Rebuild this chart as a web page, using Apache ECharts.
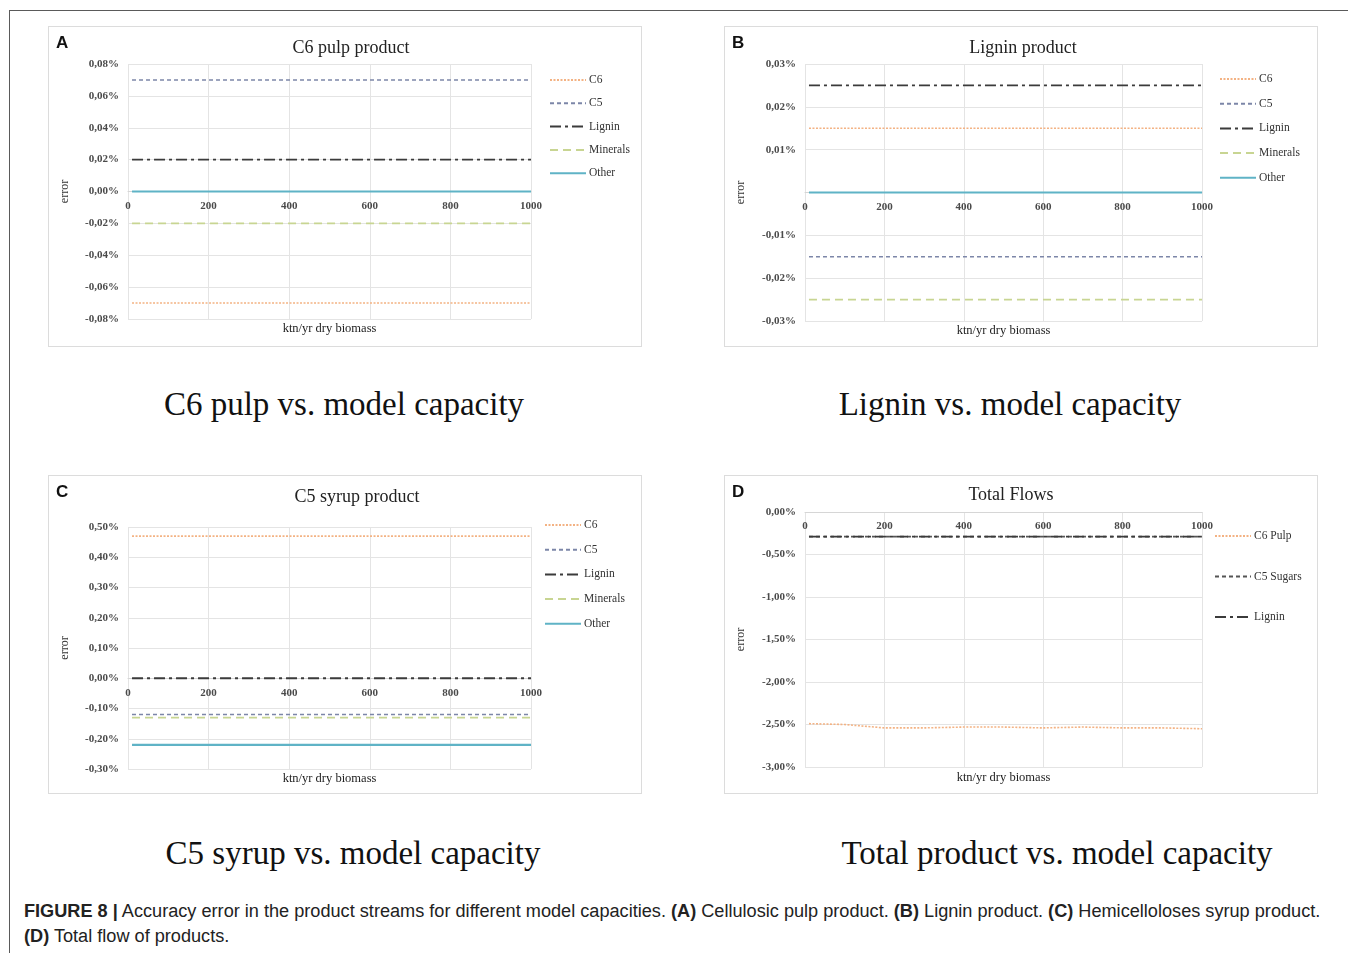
<!DOCTYPE html>
<html>
<head>
<meta charset="utf-8">
<script src="https://cdn.jsdelivr.net/npm/echarts@6/dist/echarts.min.js"></script>
<style>
  html, body { margin:0; padding:0; background:#fff; }
  body { width:1348px; height:953px; position:relative; overflow:hidden; }
  .frame { position:absolute; left:9px; top:10px; right:0; bottom:0; border-left:1.5px solid #5a5a5a; border-top:1.5px solid #5a5a5a; }
  .panel { position:absolute; border:1px solid #dcdcdc; box-sizing:border-box; background:#fff; }
  .sub { position:absolute; font-family:"Liberation Serif","DejaVu Serif",serif; font-size:33px; color:#111; white-space:nowrap; line-height:1; transform:translate(-50%,-50%); }
  .cap { position:absolute; left:24px; font-family:"Liberation Sans",Arial,sans-serif; font-size:18.15px; color:#222; white-space:nowrap; line-height:1; }
  .cap b { font-weight:bold; }
</style>
</head>
<body>
<div class="frame"></div>
<div id="pA" class="panel" style="left:48px;top:26px;width:594px;height:321px;"></div>
<div id="pB" class="panel" style="left:724px;top:26px;width:594px;height:321px;"></div>
<div id="pC" class="panel" style="left:48px;top:475px;width:594px;height:319px;"></div>
<div id="pD" class="panel" style="left:724px;top:475px;width:594px;height:319px;"></div>

<div class="sub" style="left:344px;top:404px;">C6 pulp vs. model capacity</div>
<div class="sub" style="left:1010px;top:404px;">Lignin vs. model capacity</div>
<div class="sub" style="left:353px;top:853px;">C5 syrup vs. model capacity</div>
<div class="sub" style="left:1057px;top:853px;">Total product vs. model capacity</div>

<div class="cap" style="top:902px;"><b>FIGURE 8 |</b> Accuracy error in the product streams for different model capacities. <b>(A)</b> Cellulosic pulp product. <b>(B)</b> Lignin product. <b>(C)</b> Hemicelloloses syrup product.</div>
<div class="cap" style="top:927px;"><b>(D)</b> Total flow of products.</div>

<script>
// ---- data (error in %, x in ktn/yr dry biomass) ----
const capacity = [10, 100, 200, 300, 400, 500, 600, 700, 800, 900, 1000];
const xTicks = [0, 200, 400, 600, 800, 1000];

// Panel A: C6 pulp product
const A_C6       = [-0.07, -0.07, -0.07, -0.07, -0.07, -0.07, -0.07, -0.07, -0.07, -0.07, -0.07];
const A_C5       = [0.07, 0.07, 0.07, 0.07, 0.07, 0.07, 0.07, 0.07, 0.07, 0.07, 0.07];
const A_Lignin   = [0.02, 0.02, 0.02, 0.02, 0.02, 0.02, 0.02, 0.02, 0.02, 0.02, 0.02];
const A_Minerals = [-0.02, -0.02, -0.02, -0.02, -0.02, -0.02, -0.02, -0.02, -0.02, -0.02, -0.02];
const A_Other    = [0, 0, 0, 0, 0, 0, 0, 0, 0, 0, 0];

// Panel B: Lignin product
const B_C6       = [0.015, 0.015, 0.015, 0.015, 0.015, 0.015, 0.015, 0.015, 0.015, 0.015, 0.015];
const B_C5       = [-0.015, -0.015, -0.015, -0.015, -0.015, -0.015, -0.015, -0.015, -0.015, -0.015, -0.015];
const B_Lignin   = [0.025, 0.025, 0.025, 0.025, 0.025, 0.025, 0.025, 0.025, 0.025, 0.025, 0.025];
const B_Minerals = [-0.025, -0.025, -0.025, -0.025, -0.025, -0.025, -0.025, -0.025, -0.025, -0.025, -0.025];
const B_Other    = [0, 0, 0, 0, 0, 0, 0, 0, 0, 0, 0];

// Panel C: C5 syrup product
const C_C6       = [0.47, 0.47, 0.47, 0.47, 0.47, 0.47, 0.47, 0.47, 0.47, 0.47, 0.47];
const C_C5       = [-0.12, -0.12, -0.12, -0.12, -0.12, -0.12, -0.12, -0.12, -0.12, -0.12, -0.12];
const C_Lignin   = [0, 0, 0, 0, 0, 0, 0, 0, 0, 0, 0];
const C_Minerals = [-0.13, -0.13, -0.13, -0.13, -0.13, -0.13, -0.13, -0.13, -0.13, -0.13, -0.13];
const C_Other    = [-0.22, -0.22, -0.22, -0.22, -0.22, -0.22, -0.22, -0.22, -0.22, -0.22, -0.22];

// Panel D: Total flows
const D_C6Pulp   = [-2.49, -2.50, -2.54, -2.54, -2.53, -2.53, -2.54, -2.53, -2.54, -2.54, -2.55];
const D_C5Sugars = [-0.29, -0.29, -0.29, -0.29, -0.29, -0.29, -0.29, -0.29, -0.29, -0.29, -0.29];
const D_Lignin   = [-0.29, -0.29, -0.29, -0.29, -0.29, -0.29, -0.29, -0.29, -0.29, -0.29, -0.29];

const namesABC = ['C6', 'C5', 'Lignin', 'Minerals', 'Other'];
const namesD = ['C6 Pulp', 'C5 Sugars', 'Lignin'];

// ---- styles ----
const STY = {
  C6:       { color:'#f3b283', width:1.6, type:[2,1.5] },
  C5:       { color:'#7c86a8', width:1.6, type:[4,3] },
  Lignin:   { color:'#3b3b3b', width:1.8, type:[11,4,3,4] },
  Minerals: { color:'#c8d592', width:1.8, type:[8,5] },
  Other:    { color:'#5fb3c6', width:2.2, type:'solid' }
};
const STYD = { 'C6 Pulp': STY.C6, 'C5 Sugars': Object.assign({}, STY.C5, {color:'#555'}), 'Lignin': STY.Lignin };

const serif = '"Liberation Serif","DejaVu Serif",serif';

function pct(v) {
  return v.toFixed(2).replace('.', ',') + '%';
}

function build(el, cfg) {
  const chart = echarts.init(el, null, { renderer:'canvas' });
  const series = cfg.names.map((n, i) => ({
    name: n,
    type: 'line',
    symbol: 'none',
    z: cfg.z ? cfg.z[i] : 2,
    lineStyle: Object.assign({}, cfg.styles[n]),
    itemStyle: { color: cfg.styles[n].color },
    data: capacity.map((x, k) => [x, cfg.data[i][k]])
  }));
  const g = cfg.grid;
  chart.setOption({
    animation: false,
    grid: { left: g.left, top: g.top, width: g.width, height: g.height, containLabel: false },
    xAxis: {
      type: 'value', min: 0, max: 1000, interval: 200, position: 'bottom', offset: 0,
      axisLine: { show: true, onZero: false, lineStyle: { color: '#d6d6d6', width: 1 } },
      axisTick: { show: false },
      axisLabel: {
        margin: 9, fontFamily: serif, fontSize: 11, fontWeight: 'bold', color: '#4a4a4a',
        formatter: v => (xTicks.indexOf(v) >= 0 ? String(v) : '')
      },
      splitLine: { show: true, lineStyle: { color: '#e4e4e4', width: 1 } }
    },
    yAxis: {
      type: 'value', min: cfg.yMin, max: cfg.yMax, interval: cfg.yInt,
      name: 'error', nameLocation: 'middle', nameGap: cfg.nameGap, nameRotate: 90,
      nameTextStyle: { fontFamily: serif, fontSize: 12, color: '#333' },
      axisLine: { show: false, onZero: false }, axisTick: { show: false },
      axisLabel: {
        margin: 9, fontFamily: serif, fontSize: 11, fontWeight: 'bold', color: '#4a4a4a',
        formatter: v => (cfg.hideZero && Math.abs(v) < 1e-9) ? '' : pct(v)
      },
      splitLine: { show: true, lineStyle: { color: '#e4e4e4', width: 1 } }
    },
    legend: {
      orient: 'vertical', left: cfg.legend.left, top: cfg.legend.top,
      itemWidth: cfg.legend.itemWidth, itemHeight: 10, itemGap: cfg.legend.gap, padding: 0,
      itemStyle: { color: 'rgba(0,0,0,0)', borderWidth: 0, opacity: 0 },
      textStyle: { fontFamily: serif, fontSize: 11.5, color: '#333', lineHeight: 14, padding: [0,0,0,-2] },
      data: cfg.names
    },
    graphic: [
      { type: 'text', left: 7, top: 8,
        style: { text: cfg.letter, font: 'bold 17px "Liberation Sans", Arial, sans-serif', fill: '#111' } },
      { type: 'text', x: cfg.titleX, y: cfg.titleY,
        style: { text: cfg.title, font: '18px ' + serif, fill: '#222', textAlign: 'center', textVerticalAlign: 'middle' } },
      { type: 'text', x: g.left + g.width / 2, y: g.top + g.height + cfg.xNameGap,
        style: { text: 'ktn/yr dry biomass', font: '12.5px ' + serif, fill: '#222', textAlign: 'center', textVerticalAlign: 'middle' } }
    ],
    series: series
  });
  // place the x axis line (and its labels) on y = 0, using the library's own y scale
  const zeroPx = chart.convertToPixel({ yAxisIndex: 0 }, 0);
  const bottomPx = chart.convertToPixel({ yAxisIndex: 0 }, cfg.yMin);
  chart.setOption({ xAxis: { offset: zeroPx - bottomPx } });
  return chart;
}

build(document.getElementById('pA'), {
  letter: 'A', title: 'C6 pulp product', titleX: 302, titleY: 21,
  grid: { left: 79, top: 37, width: 403, height: 255 },
  yMin: -0.08, yMax: 0.08, yInt: 0.02, nameGap: 57, xNameGap: 10,
  names: namesABC, styles: STY,
  data: [A_C6, A_C5, A_Lignin, A_Minerals, A_Other],
  legend: { left: 500, top: 46, gap: 9.3, itemWidth: 36 }
});
build(document.getElementById('pB'), {
  letter: 'B', title: 'Lignin product', titleX: 298, titleY: 21,
  grid: { left: 80, top: 37, width: 397, height: 257 },
  yMin: -0.03, yMax: 0.03, yInt: 0.01, nameGap: 58, xNameGap: 10, hideZero: true,
  names: namesABC, styles: STY,
  data: [B_C6, B_C5, B_Lignin, B_Minerals, B_Other],
  legend: { left: 494, top: 45, gap: 10.7, itemWidth: 36 }
});
build(document.getElementById('pC'), {
  letter: 'C', title: 'C5 syrup product', titleX: 308, titleY: 21,
  grid: { left: 79, top: 51, width: 403, height: 242 },
  yMin: -0.3, yMax: 0.5, yInt: 0.1, nameGap: 57, xNameGap: 10,
  names: namesABC, styles: STY,
  data: [C_C6, C_C5, C_Lignin, C_Minerals, C_Other],
  legend: { left: 495, top: 42, gap: 10.7, itemWidth: 36 }
});
build(document.getElementById('pD'), {
  letter: 'D', title: 'Total Flows', titleX: 286, titleY: 19,
  grid: { left: 80, top: 36, width: 397, height: 255 },
  yMin: -3, yMax: 0, yInt: 0.5, nameGap: 58, xNameGap: 11,
  names: namesD, styles: STYD, z: [3, 2, 3],
  data: [D_C6Pulp, D_C5Sugars, D_Lignin],
  legend: { left: 489, top: 53, gap: 26.5, itemWidth: 36 }
});
</script>
</body>
</html>
